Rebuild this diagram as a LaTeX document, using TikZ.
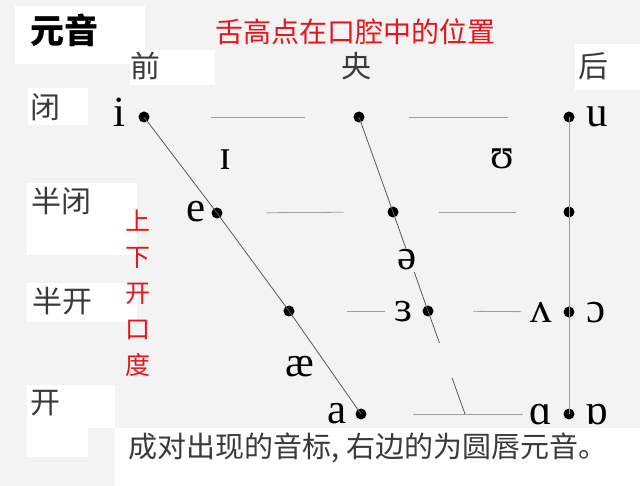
\documentclass[tikz,border=0pt]{standalone}
\usepackage{fontspec}
\setmainfont{Liberation Serif}
\newfontfamily\cjk{Noto Sans CJK SC}
\usetikzlibrary{calc}

\definecolor{bgcol}{HTML}{F3F3F3}
\definecolor{txtcol}{HTML}{3A3A3A}
\definecolor{redcol}{HTML}{E8141B}

\begin{document}
\begin{tikzpicture}[
		x=1pt, y=-1pt,
		vdot/.style={circle, fill=black, inner sep=0pt, minimum size=11pt},
		ipa/.style={font=\fontsize{43}{43}\selectfont, inner sep=0pt, anchor=base},
		lab/.style={font=\cjk\fontsize{30}{30}\selectfont, text=txtcol, inner sep=0pt},
		tongue/.style={draw=black!65, line width=0.8pt},
		hline/.style={draw=black!38, line width=0.8pt},
		patch/.style={fill=white}
	]
	\useasboundingbox (0,0) rectangle (640,486);
	\fill[bgcol] (0,0) rectangle (640,486);

	% white patches of the scan
	\fill[patch] (15,6) rectangle (145,64);
	\fill[patch] (130,50) rectangle (215,85);
	\fill[patch] (575,44) rectangle (640,90);
	\fill[patch] (28,88) rectangle (88,125);
	\fill[patch] (27,183) rectangle (137,255);
	\fill[patch] (27,283) rectangle (137,322);
	\fill[patch] (27,385) rectangle (115,428);
	\fill[patch] (27,428) rectangle (88,457);
	\fill[patch] (115,428) rectangle (640,486);

	% titles
	\node[lab, font=\cjk\bfseries\fontsize{34}{34}\selectfont, text=black] (title) at (64,30) {元音};
	\node[lab, font=\cjk\fontsize{28}{28}\selectfont, text=redcol] (tongue) at (355,32) {舌高点在口腔中的位置};
	\node[lab] (front) at (145,66) {前};
	\node[lab] (central) at (356,66) {央};
	\node[lab] (back) at (593,66) {后};

	\node[lab] (close) at (45,107) {闭};
	\node[lab] (closemid) at (61,201) {半闭};
	\node[lab] (openmid) at (62,301) {半开};
	\node[lab] (open) at (45,403) {开};

	\node[lab, font=\cjk\fontsize{25}{36}\selectfont, text=redcol, align=center] (height) at (138,293) {上\\下\\开\\口\\度};

	% vowel points
	\node[vdot] (fc) at (144,117) {};
	\node[vdot] (cc) at (359,117) {};
	\node[vdot] (bc) at (569,117) {};
	\node[vdot] (fcm) at (217,213) {};
	\node[vdot] (ccm) at (393,212) {};
	\node[vdot] (bcm) at (569,212) {};
	\node[vdot] (fom) at (289,311) {};
	\node[vdot] (com) at (428,311) {};
	\node[vdot] (bom) at (569,312) {};
	\node[vdot] (fo) at (361,414) {};
	\node[vdot] (bo) at (569,414) {};
	\coordinate (co) at (465,414);

	% tongue lines
	\draw[tongue] (fc.center) -- (fcm.center) -- (fom.center) -- (fo.center);
	\draw[tongue] (cc.center) -- (ccm.center) -- (com.center) -- ($(com.center)!0.31!(co)$);
	\draw[tongue] ($(com.center)!0.65!(co)$) -- (co);
	\draw[hline] (bc.center) -- (bo.center);
	\foreach \a/\b/\s/\e in {fc/cc/0.31/0.75, cc/bc/0.24/0.71, fcm/ccm/0.28/0.72, ccm/bcm/0.26/0.70,
			fom/com/0.42/0.69, com/bom/0.32/0.66, fo/bo/0.25/0.78}
		\draw[hline] ($(\a.center)!\s!(\b.center)$) -- ($(\a.center)!\e!(\b.center)$);

	% symbols
	\node[ipa] (i) at (119,127) {i};
	\node[ipa] (u) at (597,127) {u};
	\node[ipa] (ih) at (225,170) {ɪ};
	\node[ipa] (uh) at (502,169) {ʊ};
	\node[ipa] (e) at (196,222) {e};
	\node[ipa, fill=bgcol, inner sep=2pt] (schwa) at (407,270) {ə};
	\node[ipa] (er) at (404,322) {ɜ};
	\node[ipa] (wedge) at (541,323) {ʌ};
	\node[ipa] (oo) at (596,323) {ɔ};
	\node[ipa] (ae) at (300,377) {æ};
	\node[ipa] (a) at (337,423) {a};
	\node[ipa] (aa) at (541,424) {ɑ};
	\node[ipa] (ro) at (597,424) {ɒ};

	\node[lab, font=\cjk\fontsize{29}{29}\selectfont] (note) at (368,448) {成对出现的音标, 右边的为圆唇元音。};
\end{tikzpicture}
\end{document}
